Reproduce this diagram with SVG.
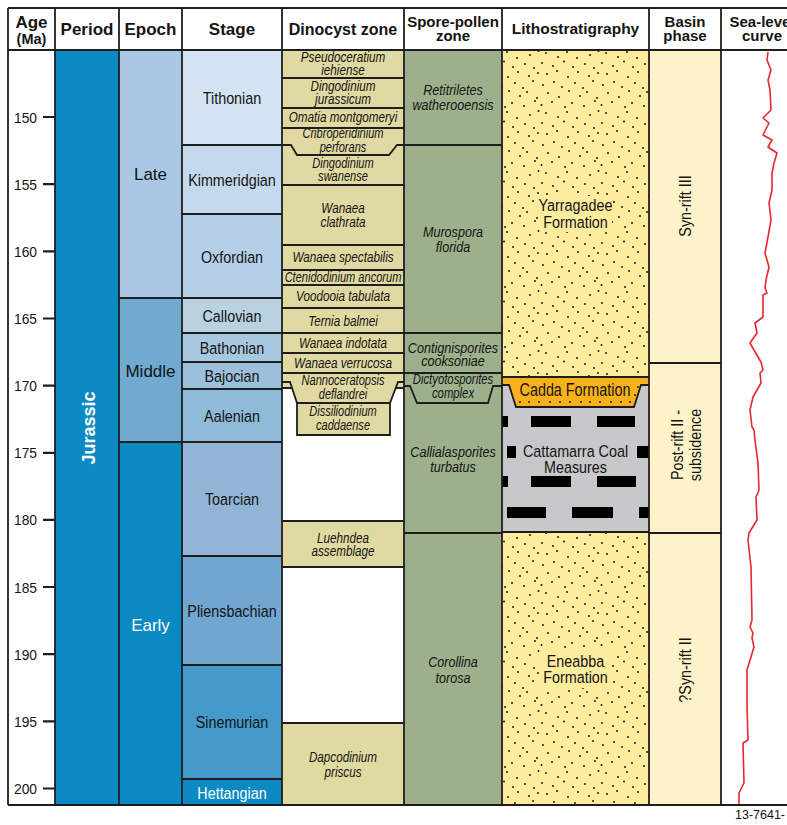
<svg xmlns="http://www.w3.org/2000/svg" width="787" height="825" viewBox="0 0 787 825">
<defs>
<style>
.ln{stroke:#1e1e1e;stroke-width:1.8;fill:none}
.tk{stroke:#1e1e1e;stroke-width:2.2}
text{font-family:"Liberation Sans",Arial,sans-serif;fill:#141414}
.hd{font-weight:bold;text-anchor:middle}
.st{font-size:16.3px;text-anchor:middle}
.ep{font-size:17px;text-anchor:middle}
.dz{font-size:15px;font-style:italic;text-anchor:middle}
.dzs{font-size:14px;font-style:italic;text-anchor:middle}
.sp{font-size:15px;font-style:italic;text-anchor:middle}
.sps{font-size:13.8px;font-style:italic;text-anchor:middle}
.ag{font-size:15px;text-anchor:end}
.wt{fill:#ffffff}
.coal{fill:#000}
.dot{fill:#1a1a1a}
</style>
<pattern id="sand" width="60" height="60" patternUnits="userSpaceOnUse">
<rect width="60" height="60" fill="#fdeb9e"/>
<g class="dot">
<circle cx="2" cy="3" r="1"/><circle cx="13" cy="6" r="1"/><circle cx="24" cy="1.5" r="1"/><circle cx="33" cy="7" r="1"/><circle cx="45" cy="4" r="1"/><circle cx="54" cy="8" r="1"/>
<circle cx="7" cy="14" r="1"/><circle cx="17" cy="11" r="1"/><circle cx="28" cy="17" r="1"/><circle cx="38" cy="12" r="1"/><circle cx="49" cy="16" r="1"/><circle cx="58" cy="13" r="1"/>
<circle cx="3" cy="25" r="1"/><circle cx="14" cy="22" r="1"/><circle cx="22" cy="27" r="1"/><circle cx="35" cy="23" r="1"/><circle cx="43" cy="28" r="1"/><circle cx="53" cy="21" r="1"/>
<circle cx="8" cy="33" r="1"/><circle cx="19" cy="37" r="1"/><circle cx="29" cy="31" r="1"/><circle cx="40" cy="36" r="1"/><circle cx="47" cy="32" r="1"/><circle cx="57" cy="38" r="1"/>
<circle cx="1.5" cy="45" r="1"/><circle cx="12" cy="42" r="1"/><circle cx="25" cy="47" r="1"/><circle cx="32" cy="43" r="1"/><circle cx="44" cy="46" r="1"/><circle cx="55" cy="41" r="1"/>
<circle cx="6" cy="53" r="1"/><circle cx="18" cy="57" r="1"/><circle cx="27" cy="52" r="1"/><circle cx="37" cy="58" r="1"/><circle cx="50" cy="55" r="1"/><circle cx="58.5" cy="51" r="1"/>
</g>
</pattern>
</defs>

<rect width="787" height="825" fill="#ffffff"/>

<!-- Period -->
<g id="period-jurassic">
<rect x="55" y="50" width="64" height="755" fill="#0a89c2"/>
<text class="hd wt" style="font-size:18px" transform="translate(95 428) rotate(-90)">Jurassic</text>
</g>

<!-- Epochs -->
<g id="epoch-late"><rect x="119" y="50" width="63" height="248" fill="#aac8e4"/><text class="ep" x="150.5" y="180">Late</text></g>
<g id="epoch-middle"><rect x="119" y="298" width="63" height="144" fill="#70aad1"/><text class="ep" x="150.5" y="377">Middle</text></g>
<g id="epoch-early"><rect x="119" y="442" width="63" height="363" fill="#0a89c2"/><text class="ep wt" x="150.5" y="631">Early</text></g>

<!-- Stages -->
<g id="stage-tithonian"><rect x="182" y="50" width="100" height="95" fill="#d3e3f2"/><text class="st" transform="translate(232 104) scale(.88 1)">Tithonian</text></g>
<g id="stage-kimmeridgian"><rect x="182" y="145" width="100" height="69" fill="#c5d9ee"/><text class="st" transform="translate(232 186) scale(.88 1)">Kimmeridgian</text></g>
<g id="stage-oxfordian"><rect x="182" y="214" width="100" height="84" fill="#b5cfe8"/><text class="st" transform="translate(232 263) scale(.88 1)">Oxfordian</text></g>
<g id="stage-callovian"><rect x="182" y="298" width="100" height="35" fill="#b9d2e0"/><text class="st" transform="translate(232 322) scale(.88 1)">Callovian</text></g>
<g id="stage-bathonian"><rect x="182" y="333" width="100" height="29" fill="#a8c8e0"/><text class="st" transform="translate(232 354) scale(.88 1)">Bathonian</text></g>
<g id="stage-bajocian"><rect x="182" y="362" width="100" height="27" fill="#9cc0db"/><text class="st" transform="translate(232 382) scale(.88 1)">Bajocian</text></g>
<g id="stage-aalenian"><rect x="182" y="389" width="100" height="53" fill="#8fbad8"/><text class="st" transform="translate(232 422) scale(.88 1)">Aalenian</text></g>
<g id="stage-toarcian"><rect x="182" y="442" width="100" height="114" fill="#92b4d7"/><text class="st" transform="translate(232 505) scale(.88 1)">Toarcian</text></g>
<g id="stage-pliensbachian"><rect x="182" y="556" width="100" height="109" fill="#70a6cf"/><text class="st" transform="translate(232 617) scale(.88 1)">Pliensbachian</text></g>
<g id="stage-sinemurian"><rect x="182" y="665" width="100" height="114" fill="#4699cb"/><text class="st" transform="translate(232 728) scale(.88 1)">Sinemurian</text></g>
<g id="stage-hettangian"><rect x="182" y="779" width="100" height="26" fill="#0a89c2"/><text class="st wt" transform="translate(232 799) scale(.88 1)">Hettangian</text></g>

<!-- Dinocyst zones -->
<g id="dinocyst-fills" fill="#e1d9a2">
<rect x="282" y="50" width="122" height="338"/>
<polygon points="290,382 398,382 390,403 297,403"/>
<rect x="297" y="403" width="93" height="32"/>
<rect x="282" y="521" width="122" height="46"/>
<rect x="282" y="723" width="122" height="82"/>
</g>
<g id="dz-pseudoceratium"><text class="dz" transform="translate(343 62) scale(.78 1)"><tspan x="0">Pseudoceratium</tspan><tspan x="0" dy="13">iehiense</tspan></text></g>
<g id="dz-dingodinium-j"><text class="dz" transform="translate(343 91) scale(.78 1)"><tspan x="0">Dingodinium</tspan><tspan x="0" dy="13">jurassicum</tspan></text></g>
<g id="dz-omatia"><text class="dz" transform="translate(343 122) scale(.78 1)">Omatia montgomeryi</text></g>
<g id="dz-cribroperidinium"><text class="dzs" transform="translate(343 138) scale(.79 1)"><tspan x="0">Cribroperidinium</tspan><tspan x="0" dy="14">perforans</tspan></text></g>
<g id="dz-dingodinium-s"><text class="dzs" transform="translate(343 168) scale(.79 1)"><tspan x="0">Dingodinium</tspan><tspan x="0" dy="13">swanense</tspan></text></g>
<g id="dz-wanaea-c"><text class="dz" transform="translate(343 213) scale(.78 1)"><tspan x="0">Wanaea</tspan><tspan x="0" dy="14">clathrata</tspan></text></g>
<g id="dz-wanaea-s"><text class="dz" transform="translate(343 262) scale(.78 1)">Wanaea spectabilis</text></g>
<g id="dz-ctenidodinium"><text class="dzs" transform="translate(343 282) scale(.79 1)">Ctenidodinium ancorum</text></g>
<g id="dz-voodooia"><text class="dz" transform="translate(343 301) scale(.78 1)">Voodooia tabulata</text></g>
<g id="dz-ternia"><text class="dz" transform="translate(343 326) scale(.78 1)">Ternia balmei</text></g>
<g id="dz-wanaea-i"><text class="dz" transform="translate(343 348) scale(.78 1)">Wanaea indotata</text></g>
<g id="dz-wanaea-v"><text class="dz" transform="translate(343 368) scale(.78 1)">Wanaea verrucosa</text></g>
<g id="dz-nannoceratopsis"><text class="dzs" transform="translate(343 385) scale(.79 1)"><tspan x="0">Nannoceratopsis</tspan><tspan x="0" dy="14">deflandrei</tspan></text></g>
<g id="dz-dissiliodinium"><text class="dzs" transform="translate(343 416) scale(.79 1)"><tspan x="0">Dissiliodinium</tspan><tspan x="0" dy="14">caddaense</tspan></text></g>
<g id="dz-luehndea"><text class="dz" transform="translate(343 543) scale(.78 1)"><tspan x="0">Luehndea</tspan><tspan x="0" dy="13.5">assemblage</tspan></text></g>
<g id="dz-dapcodinium"><text class="dz" transform="translate(343 762) scale(.78 1)"><tspan x="0">Dapcodinium</tspan><tspan x="0" dy="15">priscus</tspan></text></g>

<!-- Spore-pollen zones -->
<g id="spore-fill"><rect x="404" y="50" width="98" height="755" fill="#9db08b"/></g>
<g id="sp-retitriletes"><text class="sp" transform="translate(453 95) scale(.84 1)"><tspan x="0">Retitriletes</tspan><tspan x="0" dy="15">watherooensis</tspan></text></g>
<g id="sp-murospora"><text class="sp" transform="translate(453 237) scale(.84 1)"><tspan x="0">Murospora</tspan><tspan x="0" dy="15">florida</tspan></text></g>
<g id="sp-contignisporites"><text class="sp" transform="translate(453 353) scale(.84 1)"><tspan x="0">Contignisporites</tspan><tspan x="0" dy="13">cooksoniae</tspan></text></g>
<g id="sp-dictyotosporites"><text class="sps" transform="translate(453 384) scale(.82 1)"><tspan x="0">Dictyotosporites</tspan><tspan x="0" dy="14.5">complex</tspan></text></g>
<g id="sp-callialasporites"><text class="sp" transform="translate(453 457) scale(.84 1)"><tspan x="0">Callialasporites</tspan><tspan x="0" dy="15">turbatus</tspan></text></g>
<g id="sp-corollina"><text class="sp" transform="translate(453 667) scale(.84 1)"><tspan x="0">Corollina</tspan><tspan x="0" dy="16">torosa</tspan></text></g>

<!-- Lithostratigraphy -->
<g id="lith-yarragadee">
<rect x="502" y="50" width="147" height="327" fill="url(#sand)"/>
<rect x="540" y="196" width="72" height="36" fill="#fdeb9e"/>
<text class="st" transform="translate(575.5 211) scale(.88 1)"><tspan x="0">Yarragadee</tspan><tspan x="0" dy="17">Formation</tspan></text>
</g>
<g id="lith-cattamarra">
<rect x="502" y="385" width="147" height="147" fill="#c8c8cb"/>
<rect class="coal" x="502" y="416" width="6" height="11"/><rect class="coal" x="531" y="416" width="40" height="11"/><rect class="coal" x="597" y="416" width="38" height="11"/>
<rect class="coal" x="507" y="446" width="9" height="12"/><rect class="coal" x="637" y="446" width="12" height="12"/>
<rect class="coal" x="502" y="476" width="6" height="11"/><rect class="coal" x="531" y="476" width="40" height="11"/><rect class="coal" x="597" y="476" width="39" height="11"/>
<rect class="coal" x="507" y="507" width="39" height="11"/><rect class="coal" x="572" y="507" width="41" height="11"/><rect class="coal" x="639" y="507" width="10" height="11"/>
<text class="st" transform="translate(575.5 457) scale(.88 1)"><tspan x="0">Cattamarra Coal</tspan><tspan x="0" dy="16.5">Measures</tspan></text>
</g>
<g id="lith-cadda">
<polygon points="502,377 649,377 649,385 641,385 634,407 516,407 509,385 502,385" fill="#f8b01b"/>
<g class="dot">
<circle cx="520" cy="402" r="1"/><circle cx="529" cy="402" r="1"/><circle cx="539" cy="402" r="1"/><circle cx="550" cy="402" r="1"/>
<circle cx="560" cy="402" r="1"/><circle cx="570" cy="402" r="1"/><circle cx="581" cy="402" r="1"/><circle cx="590" cy="402" r="1"/>
<circle cx="600" cy="402" r="1"/><circle cx="611" cy="402" r="1"/><circle cx="621" cy="402" r="1"/><circle cx="630" cy="402" r="1"/>
<circle cx="638" cy="387" r="1"/><circle cx="635" cy="395" r="1"/>
</g>
<text class="st" style="font-size:17.5px" transform="translate(575 396) scale(.82 1)">Cadda Formation</text>
</g>
<g id="lith-eneabba">
<rect x="502" y="532" width="147" height="273" fill="url(#sand)"/>
<rect x="540" y="650" width="72" height="38" fill="#fdeb9e"/>
<text class="st" transform="translate(575.5 667) scale(.88 1)"><tspan x="0">Eneabba</tspan><tspan x="0" dy="16">Formation</tspan></text>
</g>

<!-- Basin phase -->
<g id="basin-fill"><rect x="649" y="50" width="72" height="755" fill="#fdf2c8"/></g>
<g id="basin-synrift3"><text class="st" transform="translate(691 206) rotate(-90) scale(.88 1)">Syn-rift III</text></g>
<g id="basin-postrift2">
<text class="st" transform="translate(683 445) rotate(-90) scale(.88 1)">Post-rift II -</text>
<text class="st" transform="translate(701 445) rotate(-90) scale(.88 1)">subsidence</text>
</g>
<g id="basin-synrift2"><text class="st" transform="translate(691 670) rotate(-90) scale(.88 1)">?Syn-rift II</text></g>

<!-- Sea-level curve -->
<g id="sea-level-curve">
<polyline fill="none" stroke="#e8262d" stroke-width="1.6" stroke-linejoin="round" points="768,52 767,60 771,70 768,80 770,90 771,110 763,118 769,123 763,135 772,140 768,147 777,153 774,163 772,173 772,190 769,203 771,220 768,237 765,253 769,267 766,280 765,288 767,293 763,295 763,317 755,323 757,333 750,343 754,350 758,357 761,362 763,370 760,373 761,383 753,397 750,410 752,427 754,430 755,440 758,463 759,490 756,497 757,520 749,533 748,540 751,567 752,620 750,627 753,633 752,638 754,647 747,670 747,707 748,740 743,743 744,783 739,793 739,805"/>
</g>

<!-- Grid lines -->
<g id="grid">
<path class="ln" d="M8,8 H800 M8,805 H800 M8,8 V805 M8,50 H800"/>
<path class="ln" d="M55,8 V805 M119,8 V805 M182,8 V805 M282,8 V805 M404,8 V805 M502,8 V805 M649,8 V805 M721,8 V805"/>
<path class="ln" d="M119,298 H182 M119,442 H182"/>
<path class="ln" d="M182,145 H282 M182,214 H282 M182,298 H282 M182,333 H282 M182,362 H282 M182,389 H282 M182,442 H282 M182,556 H282 M182,665 H282 M182,779 H282"/>
<path class="ln" d="M282,78 H404 M282,108 H404 M282,128 H404 M282,185 H404 M282,245 H404 M282,270 H404 M282,285 H404 M282,308 H404 M282,333 H404 M282,353 H404 M282,373 H404"/>
<path class="ln" d="M282,145 H291 L297,155 H389 L397,145 H404"/>
<path class="ln" d="M282,382 H290 L297,403 H390 L398,382 H404 M282,388 H292 M396,388 H404 M297,403 V435 H390 V403"/>
<path class="ln" d="M282,521 H404 M282,567 H404 M282,723 H404"/>
<path class="ln" d="M404,145 H502 M404,333 H502 M404,373 H502 M404,386 H410 L417,403 H488 L493,386 H502 M404,533 H502"/>
<path class="ln" d="M502,377 H649 M502,385 H509 L516,407 H634 L641,385 H649 M502,532 H649"/>
<path class="ln" d="M649,363 H721 M649,533 H721"/>
</g>

<!-- Age scale -->
<g id="age-scale">
<path class="tk" d="M43,117 H55 M43,184.2 H55 M43,251.3 H55 M43,318.5 H55 M43,385.6 H55 M43,452.8 H55 M43,519.9 H55 M43,587 H55 M43,654.2 H55 M43,721.4 H55 M43,788.5 H55"/>
<text class="ag" transform="translate(37 122.5) scale(.92 1)">150</text>
<text class="ag" transform="translate(37 189.7) scale(.92 1)">155</text>
<text class="ag" transform="translate(37 256.8) scale(.92 1)">160</text>
<text class="ag" transform="translate(37 324) scale(.92 1)">165</text>
<text class="ag" transform="translate(37 391.1) scale(.92 1)">170</text>
<text class="ag" transform="translate(37 458.3) scale(.92 1)">175</text>
<text class="ag" transform="translate(37 525.4) scale(.92 1)">180</text>
<text class="ag" transform="translate(37 592.5) scale(.92 1)">185</text>
<text class="ag" transform="translate(37 659.7) scale(.92 1)">190</text>
<text class="ag" transform="translate(37 726.9) scale(.92 1)">195</text>
<text class="ag" transform="translate(37 794) scale(.92 1)">200</text>
</g>

<!-- Headers -->
<g id="headers">
<text class="hd" x="31.5" y="28" style="font-size:17px">Age</text>
<text class="hd" x="31.5" y="44" style="font-size:14.5px">(Ma)</text>
<text class="hd" x="87" y="35" style="font-size:17px">Period</text>
<text class="hd" x="150.5" y="35" style="font-size:17px">Epoch</text>
<text class="hd" x="232" y="35" style="font-size:17px">Stage</text>
<text class="hd" x="343" y="35" style="font-size:16px">Dinocyst zone</text>
<text class="hd" x="453" y="27" style="font-size:15px">Spore-pollen</text>
<text class="hd" x="453" y="41" style="font-size:15px">zone</text>
<text class="hd" x="575.5" y="34" style="font-size:15.5px">Lithostratigraphy</text>
<text class="hd" x="685" y="27" style="font-size:15px">Basin</text>
<text class="hd" x="685" y="41" style="font-size:15px">phase</text>
<text class="hd" x="762" y="27" style="font-size:15px">Sea-level</text>
<text class="hd" x="762" y="41" style="font-size:15px">curve</text>
</g>

<text x="735" y="819" style="font-size:12.5px">13-7641-</text>
</svg>
